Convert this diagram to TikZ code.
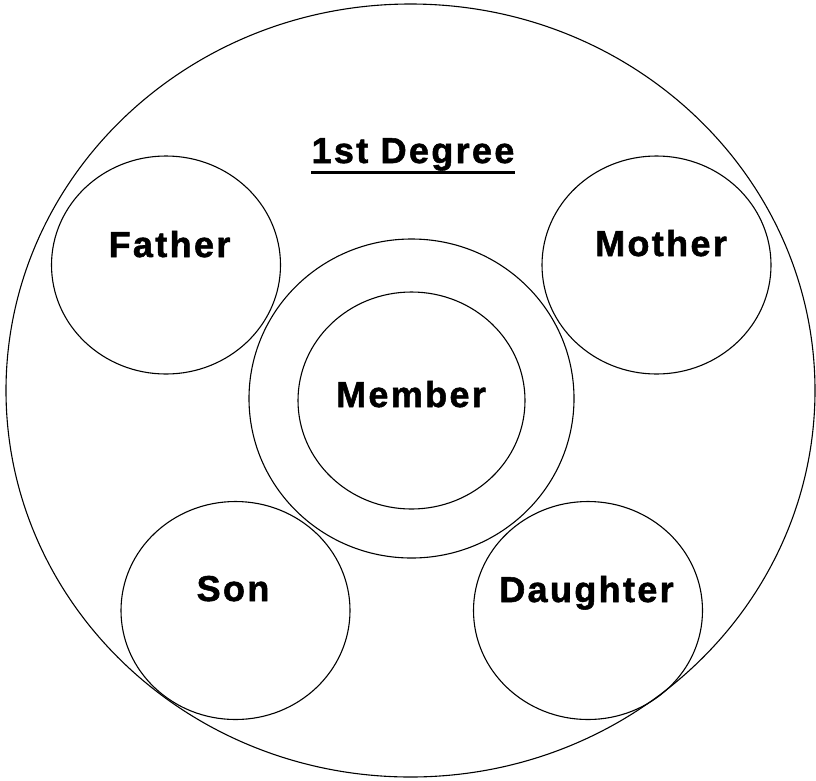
\documentclass[tikz,border=0pt]{standalone}
\usepackage{fontspec}
\newfontfamily\lblfont{Liberation Sans}[LetterSpace=6.5, BoldFeatures={FakeBold=1.5}]
\usetikzlibrary{shapes.geometric}

\begin{document}
\begin{tikzpicture}[
        x=1pt, y=-1pt,
        ring/.style={
            draw,
            ellipse,
            line width=1.1pt,
            inner sep=0pt
        },
        smallRing/.style={
            ring,
            minimum width=229pt,
            minimum height=218pt
        },
        lbl/.style={
            font=\lblfont\bfseries\fontsize{36}{40}\selectfont,
            anchor=base,
            inner sep=0pt
        }
    ]

    \useasboundingbox (0,0) rectangle (816,780);

    % Rings
    \node[ring, minimum width=809pt, minimum height=773pt] (degree) at (410.5, 390.5) {};
    \node[smallRing] (father) at (166, 265) {};
    \node[smallRing] (mother) at (656.5, 265) {};
    \node[ring, minimum width=325pt, minimum height=319pt] (memberRing) at (411.5, 398.5) {};
    \node[ring, minimum width=227pt, minimum height=217pt] (member) at (411.5, 400.5) {};
    \node[smallRing] (son) at (235.5, 610.5) {};
    \node[smallRing] (daughter) at (588, 610.5) {};

    % Labels
    \node[lbl] (degreeLbl) at (413, 163) {1st Degree};
    \node[lbl] (fatherLbl) at (169.5, 257) {Father};
    \node[lbl] (motherLbl) at (661, 256) {Mother};
    \node[lbl] (memberLbl) at (411, 407) {Member};
    \node[lbl] (sonLbl) at (233, 601) {Son};
    \node[lbl] (daughterLbl) at (586.5, 602) {Daughter};

    \draw[line width=3pt] ([yshift=-9pt]degreeLbl.base west) -- ([yshift=-9pt]degreeLbl.base east);

\end{tikzpicture}
\end{document}
